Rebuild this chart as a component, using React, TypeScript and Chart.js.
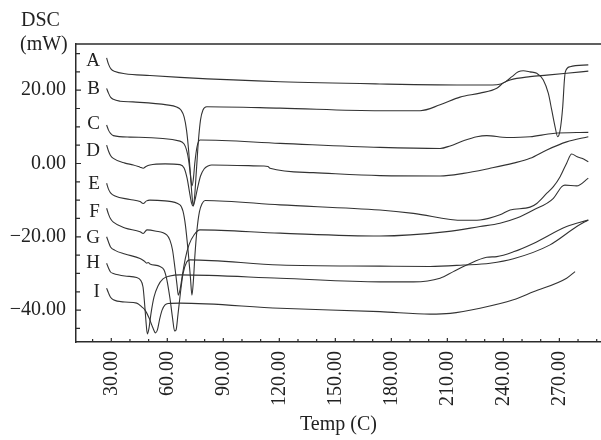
import React, { useEffect, useRef } from "react";
import { Chart, registerables } from "chart.js";

Chart.register(...registerables);

// ---- Data (Temp in °C, DSC in mW) ----
const tempA = [27.5, 28.5, 29.8, 32.0, 37.3, 50.7, 66.8, 120.4, 173.9, 223.8, 236.5, 240.9, 244.6, 248.0, 250.7, 254.3, 257.9, 261.4, 264.1, 265.9, 267.7, 269.1, 270.4, 271.8, 272.7, 273.2, 275.7, 285.5];
const dscA = [28.8, 27.1, 25.8, 25.1, 24.5, 24.0, 23.5, 22.3, 21.7, 21.4, 21.5, 22.2, 23.7, 25.0, 25.3, 25.0, 24.6, 22.8, 19.1, 14.6, 10.0, 7.3, 9.1, 15.5, 22.8, 25.0, 26.4, 26.9];

const tempB = [27.5, 28.5, 29.6, 31.1, 34.7, 41.6, 59.7, 65.0, 67.3, 69.0, 70.3, 71.4, 72.4, 73.2, 73.9, 74.7, 75.6, 76.7, 77.8, 79.1, 81.1, 120.4, 173.9, 195.4, 206.1, 216.8, 227.5, 236.5, 240.0, 243.6, 254.3, 263.3, 273.9, 285.5];
const dscB = [20.5, 19.2, 18.1, 17.5, 17.0, 16.8, 16.0, 15.4, 14.6, 12.7, 9.1, 3.7, -3.1, -8.6, -11.6, -8.6, -1.8, 6.4, 11.9, 14.6, 15.5, 15.1, 14.4, 14.4, 16.0, 18.1, 19.2, 20.5, 22.0, 22.8, 23.7, 24.1, 24.6, 25.2];

const tempC = [27.5, 28.5, 29.6, 31.1, 40.0, 66.8, 69.0, 70.3, 71.4, 72.4, 73.2, 73.9, 74.8, 75.9, 77.5, 120.4, 173.9, 206.1, 211.5, 218.6, 225.8, 231.1, 241.8, 254.3, 266.6, 285.5];
const dscC = [10.5, 9.1, 8.2, 7.6, 7.2, 6.1, 5.3, 3.7, 1.0, -3.1, -6.1, -4.5, 0.4, 4.5, 6.4, 5.5, 4.4, 4.1, 4.8, 6.2, 7.3, 7.6, 7.1, 7.3, 8.2, 8.5];

const tempD = [27.5, 28.5, 29.6, 31.1, 37.3, 41.8, 45.4, 47.1, 48.6, 50.7, 58.8, 66.8, 69.0, 70.6, 71.9, 73.0, 73.8, 74.8, 76.2, 77.8, 79.7, 81.8, 83.8, 111.4, 113.9, 115.0, 138.2, 173.9, 206.1, 218.6, 232.9, 245.4, 254.3, 263.3, 273.9, 285.5];
const dscD = [5.0, 3.4, 2.2, 1.4, 0.1, -0.4, -1.0, -1.3, -0.8, -0.4, -0.1, -0.3, -1.2, -4.0, -7.8, -10.8, -11.6, -10.0, -6.7, -3.4, -1.5, -0.7, -0.4, -0.7, -0.8, -1.3, -2.5, -3.3, -3.4, -2.7, -1.3, 0.1, 1.4, 3.7, 5.9, 7.3];

const tempE = [27.5, 28.5, 29.6, 32.0, 40.0, 45.4, 47.1, 48.9, 50.7, 58.8, 66.8, 68.4, 69.7, 71.1, 72.4, 73.2, 74.0, 74.8, 75.9, 77.2, 78.6, 80.2, 120.4, 173.9, 191.8, 218.6, 227.5, 238.2, 243.6, 254.3, 257.9, 263.3, 266.8, 270.4, 273.9, 276.6, 279.3, 282.0, 285.5];
const dscE = [-5.4, -7.0, -8.0, -8.9, -9.8, -10.4, -10.9, -10.2, -10.0, -10.2, -11.3, -13.0, -16.8, -23.6, -31.2, -35.9, -31.8, -25.0, -18.1, -13.2, -11.0, -10.1, -11.3, -12.7, -13.6, -15.5, -15.4, -14.0, -12.7, -11.9, -10.9, -8.1, -6.3, -3.6, 0.1, 2.6, 1.9, 1.4, 0.5];

const tempF = [27.5, 28.5, 29.6, 31.1, 37.3, 45.4, 47.1, 49.1, 53.4, 59.7, 61.4, 62.8, 64.1, 65.2, 65.9, 66.8, 68.1, 69.7, 71.6, 74.3, 77.5, 120.4, 173.9, 209.7, 227.5, 238.2, 247.2, 256.1, 266.8, 271.3, 273.0, 279.3, 285.5];
const dscF = [-12.2, -13.8, -15.1, -16.0, -17.6, -18.6, -19.1, -18.1, -18.4, -19.5, -20.9, -23.6, -28.5, -33.1, -35.9, -34.5, -30.4, -25.8, -22.2, -19.5, -18.1, -19.0, -19.8, -18.6, -17.2, -16.3, -14.9, -12.7, -9.5, -6.3, -5.9, -6.1, -4.0];

const tempG = [27.5, 28.5, 29.6, 32.0, 37.3, 45.4, 47.6, 49.0, 49.7, 50.7, 56.1, 58.2, 59.8, 61.4, 62.8, 63.9, 64.7, 65.7, 67.1, 68.4, 70.4, 72.2, 120.4, 173.9, 200.7, 218.6, 232.9, 245.4, 265.0, 279.3, 285.5];
const dscG = [-20.0, -21.4, -22.8, -23.7, -24.7, -25.9, -26.6, -27.2, -27.0, -27.4, -28.1, -29.0, -31.8, -36.7, -42.1, -45.7, -45.4, -41.3, -35.0, -30.1, -26.9, -26.3, -27.7, -28.0, -28.1, -27.7, -27.2, -26.0, -22.2, -17.2, -15.4];

const tempH = [27.5, 28.5, 29.6, 31.1, 37.3, 43.6, 45.6, 47.0, 47.9, 48.6, 49.3, 50.2, 51.3, 52.9, 55.0, 57.7, 61.4, 66.8, 120.4, 173.9, 191.8, 206.1, 213.2, 220.4, 231.1, 236.5, 245.4, 256.1, 273.9, 285.5];
const dscH = [-27.2, -28.5, -29.6, -30.0, -30.7, -31.1, -31.8, -33.7, -38.6, -43.2, -46.5, -44.9, -40.8, -36.4, -33.4, -31.5, -30.7, -30.4, -31.3, -32.3, -32.3, -31.3, -29.5, -27.7, -25.6, -25.4, -24.1, -21.8, -17.2, -15.4];

const tempI = [27.5, 28.5, 29.6, 31.1, 37.3, 43.6, 46.3, 48.1, 50.2, 52.1, 53.7, 54.7, 55.8, 57.2, 58.8, 60.4, 66.8, 120.4, 173.9, 200.7, 211.5, 227.5, 245.4, 256.1, 273.9, 278.4];
const dscI = [-34.0, -35.3, -36.5, -37.2, -37.8, -38.1, -39.1, -40.0, -42.1, -44.6, -46.2, -45.4, -42.7, -40.0, -38.6, -38.2, -38.1, -39.5, -40.4, -41.1, -40.9, -39.5, -37.2, -35.0, -31.3, -29.5];

const seriesNames = ["A", "B", "C", "D", "E", "F", "G", "H", "I"];
const seriesTemps = [tempA, tempB, tempC, tempD, tempE, tempF, tempG, tempH, tempI];
const seriesDsc = [dscA, dscB, dscC, dscD, dscE, dscF, dscG, dscH, dscI];
// where the letter labels sit (data coords)
const labelTemp = 23.9;
const labelDsc = [28.0, 20.3, 10.8, 3.4, -5.6, -13.2, -20.3, -27.1, -35.0];

const xTickValues = [30, 60, 90, 120, 150, 180, 210, 240, 270];
const xMinorTicks = [20, 40, 50, 70, 80, 100, 110, 130, 140, 160, 170, 190, 200, 220, 230, 250, 260, 280, 290];
const yTickValues = [-40, -20, 0, 20];
const yMinorTicks = [-45, -35, -30, -25, -15, -10, -5, 5, 10, 15, 25, 30];

const X_MIN = 11.1;
const X_MAX = 292.3;
const Y_MIN = -48.7;
const Y_MAX = 32.6;

const FONT = "'Liberation Serif', 'DejaVu Serif', serif";
const INK = "#2b2b2b";

const fmt = (v: number) => v.toFixed(2).replace("-", "\u2212");

const decorPlugin = {
  id: "decor",
  afterDatasetsDraw(chart: any) {
    const { ctx, chartArea, scales } = chart;
    const xs = scales.x;
    const ys = scales.y;
    ctx.save();
    ctx.strokeStyle = INK;
    // top frame line
    ctx.lineWidth = 1.5;
    ctx.beginPath();
    ctx.moveTo(chartArea.left, chartArea.top);
    ctx.lineTo(chartArea.right, chartArea.top);
    ctx.stroke();
    // inward ticks
    ctx.lineWidth = 1.2;
    ctx.beginPath();
    for (const v of xTickValues) {
      const p = xs.getPixelForValue(v);
      ctx.moveTo(p, chartArea.bottom);
      ctx.lineTo(p, chartArea.bottom - 4);
    }
    for (const v of xMinorTicks) {
      const p = xs.getPixelForValue(v);
      ctx.moveTo(p, chartArea.bottom);
      ctx.lineTo(p, chartArea.bottom - 3);
    }
    for (const v of yTickValues) {
      const p = ys.getPixelForValue(v);
      ctx.moveTo(chartArea.left, p);
      ctx.lineTo(chartArea.left + 5, p);
    }
    for (const v of yMinorTicks) {
      const p = ys.getPixelForValue(v);
      ctx.moveTo(chartArea.left, p);
      ctx.lineTo(chartArea.left + 4, p);
    }
    ctx.stroke();
    // axis unit title
    ctx.fillStyle = "#222";
    ctx.font = `20px ${FONT}`;
    ctx.textAlign = "left";
    ctx.textBaseline = "alphabetic";
    ctx.fillText("DSC", 21, 26);
    ctx.fillText("(mW)", 20, 50);
    // series letters
    ctx.font = `19px ${FONT}`;
    ctx.textAlign = "right";
    ctx.textBaseline = "middle";
    seriesNames.forEach((n, i) => {
      ctx.fillText(n, xs.getPixelForValue(labelTemp), ys.getPixelForValue(labelDsc[i]));
    });
    ctx.restore();
  },
};

export default function App() {
  const ref = useRef<HTMLCanvasElement | null>(null);
  useEffect(() => {
    if (!ref.current) return;
    const datasets = seriesNames.map((n, i) => ({
      label: n,
      data: seriesTemps[i].map((t, j) => ({ x: t, y: seriesDsc[i][j] })),
      borderColor: "#333333",
      borderWidth: 1.1,
      pointRadius: 0,
      fill: false,
      cubicInterpolationMode: "monotone" as const,
    }));
    const chart = new Chart(ref.current, {
      type: "line",
      data: { datasets },
      options: {
        animation: false,
        responsive: false,
        devicePixelRatio: 1,
        layout: { padding: { top: 44, left: 0, right: 0, bottom: 0 } },
        plugins: { legend: { display: false }, tooltip: { enabled: false } },
        scales: {
          x: {
            type: "linear",
            min: X_MIN,
            max: X_MAX,
            afterBuildTicks: (s: any) => {
              s.ticks = xTickValues.map((v) => ({ value: v }));
            },
            afterFit: (s: any) => {
              s.height = 98;
            },
            grid: { display: true, drawOnChartArea: false, drawTicks: false },
            border: { display: true, color: INK, width: 1.5 },
            ticks: {
              minRotation: 90,
              maxRotation: 90,
              padding: 9,
              color: "#222",
              font: { family: FONT, size: 20 },
              callback: (v: any) => fmt(Number(v)),
            },
            title: {
              display: true,
              text: "Temp (C)",
              color: "#222",
              font: { family: FONT, size: 20 },
              padding: { top: 0, bottom: 3 },
            },
          },
          y: {
            type: "linear",
            min: Y_MIN,
            max: Y_MAX,
            afterBuildTicks: (s: any) => {
              s.ticks = yTickValues.map((v) => ({ value: v }));
            },
            afterFit: (s: any) => {
              s.width = 76;
            },
            grid: { display: true, drawOnChartArea: false, drawTicks: false },
            border: { display: true, color: INK, width: 1.5 },
            ticks: {
              padding: 10,
              color: "#222",
              font: { family: FONT, size: 20 },
              callback: (v: any) => fmt(Number(v)),
            },
          },
        },
      },
      plugins: [decorPlugin],
    });
    return () => chart.destroy();
  }, []);
  return (
    <div style={{ position: "fixed", left: 0, top: 0, width: 601, height: 440, background: "#fff", overflow: "hidden" }}>
      <canvas ref={ref} width={601} height={440} style={{ display: "block" }} />
    </div>
  );
}
